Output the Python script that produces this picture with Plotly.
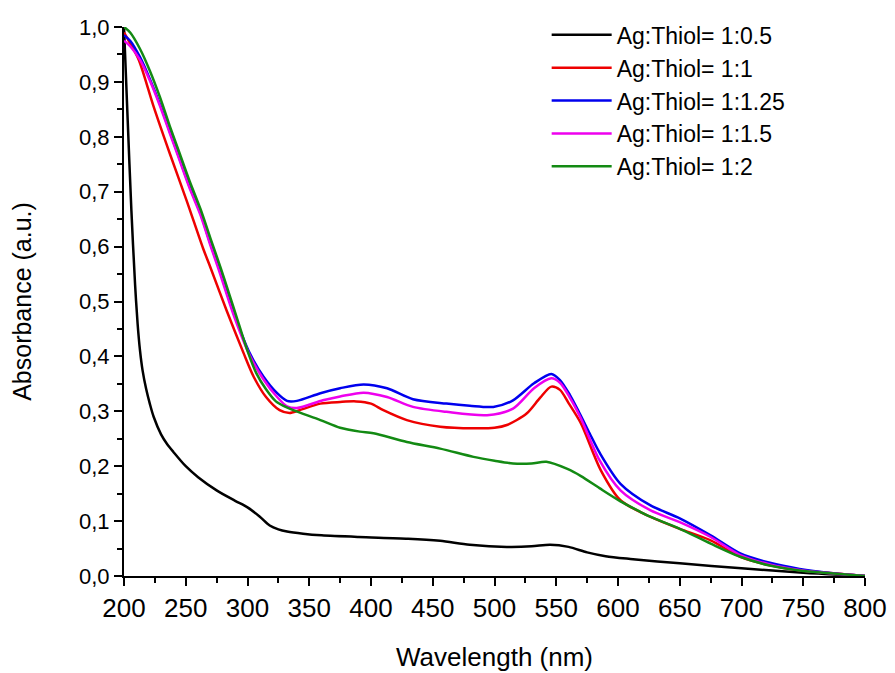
import plotly.graph_objects as go

# ---------------- data ----------------
wl_black = [200, 203, 206, 209, 211, 213, 215, 218, 221, 224, 230, 235, 240, 250, 260, 275, 290, 300,
            310, 318, 325, 332, 345, 360, 390, 430, 456, 480, 510, 530, 545, 560, 575, 590, 610, 650,
            700, 750, 800]
ab_black = [1.0, 0.83, 0.665, 0.53, 0.46, 0.41, 0.375, 0.34, 0.313, 0.29, 0.258, 0.24, 0.226, 0.20,
            0.18, 0.156, 0.137, 0.125, 0.108, 0.092, 0.085, 0.081, 0.077, 0.074, 0.071, 0.068, 0.064,
            0.057, 0.053, 0.054, 0.057, 0.053, 0.043, 0.036, 0.031, 0.023, 0.014, 0.006, 0.0]

wl_red = [200, 205, 212, 224, 237, 251, 264, 270, 283, 297, 305, 315, 326, 334, 342, 359, 375, 388,
          400, 410, 429, 456, 483, 500, 510, 526, 537, 546, 553, 560, 570, 586, 602, 626, 650, 675,
          699, 723, 747, 772, 800]
ab_red = [0.99, 0.97, 0.94, 0.855, 0.77, 0.682, 0.597, 0.562, 0.484, 0.405, 0.363, 0.326, 0.302, 0.297,
          0.302, 0.314, 0.317, 0.318, 0.314, 0.302, 0.284, 0.272, 0.269, 0.27, 0.275, 0.296, 0.325,
          0.345, 0.339, 0.315, 0.278, 0.193, 0.138, 0.108, 0.086, 0.065, 0.035, 0.0195, 0.0104,
          0.0055, 0.0]

wl_blue = [200, 205, 213, 221, 229, 237, 245, 253, 262, 270, 277, 289, 302, 313, 324, 332, 340, 359,
           375, 394, 413, 434, 461, 480, 499, 515, 532, 546, 553, 561, 569, 577, 585, 602, 626, 650,
           675, 699, 723, 747, 772, 800]
ab_blue = [0.985, 0.975, 0.945, 0.905, 0.86, 0.81, 0.76, 0.71, 0.66, 0.605, 0.56, 0.478, 0.405,
           0.363, 0.333, 0.319, 0.319, 0.333, 0.342, 0.349, 0.342, 0.322, 0.314, 0.31, 0.308, 0.32,
           0.351, 0.368, 0.357, 0.33, 0.296, 0.26, 0.225, 0.168, 0.129, 0.105, 0.074, 0.041, 0.024,
           0.013, 0.0055, 0.0]

wl_magenta = [200, 205, 213, 221, 229, 237, 245, 253, 262, 270, 277, 289, 302, 313, 324, 332, 340,
              361, 375, 394, 413, 434, 461, 494, 515, 532, 546, 553, 561, 570, 585, 602, 626, 650,
              675, 699, 723, 747, 772, 800]
ab_magenta = [0.975, 0.965, 0.94, 0.902, 0.857, 0.807, 0.757, 0.707, 0.657, 0.602, 0.556, 0.474,
              0.401, 0.358, 0.326, 0.309, 0.306, 0.32, 0.327, 0.334, 0.326, 0.308, 0.299, 0.293,
              0.305, 0.342, 0.36, 0.352, 0.325, 0.287, 0.211, 0.156, 0.12, 0.098, 0.071, 0.038,
              0.021, 0.011, 0.005, 0.0]

wl_green = [200, 205, 213, 221, 229, 237, 245, 253, 262, 270, 278, 285, 291, 300, 307, 315, 323, 330,
            337, 359, 375, 391, 402, 429, 456, 483, 500, 515, 530, 542, 559, 570, 585, 602, 618, 626,
            650, 675, 699, 723, 747, 772, 800]
ab_green = [1.0, 0.99, 0.96, 0.92, 0.873, 0.82, 0.77, 0.72, 0.668, 0.615, 0.563, 0.515, 0.473, 0.41,
            0.37, 0.34, 0.318, 0.309, 0.302, 0.284, 0.27, 0.263, 0.26, 0.244, 0.232, 0.217, 0.21,
            0.205, 0.205, 0.208, 0.195, 0.182, 0.16, 0.136, 0.117, 0.108, 0.086, 0.059, 0.035,
            0.019, 0.01, 0.005, 0.0]

series_names = ["Ag:Thiol= 1:0.5", "Ag:Thiol= 1:1", "Ag:Thiol= 1:1.25",
                "Ag:Thiol= 1:1.5", "Ag:Thiol= 1:2"]
series_colors = ["#000000", "#ee0000", "#0000ee", "#ee00ee", "#138a13"]

x_ticks = [200, 250, 300, 350, 400, 450, 500, 550, 600, 650, 700, 750, 800]
y_ticks = [0.0, 0.1, 0.2, 0.3, 0.4, 0.5, 0.6, 0.7, 0.8, 0.9, 1.0]
y_ticklabels = ["0,0", "0,1", "0,2", "0,3", "0,4", "0,5", "0,6", "0,7", "0,8", "0,9", "1,0"]

# ---------------- figure ----------------
FONT = "Arial, 'Liberation Sans', sans-serif"
fig = go.Figure()
all_x = [wl_black, wl_red, wl_blue, wl_magenta, wl_green]
all_y = [ab_black, ab_red, ab_blue, ab_magenta, ab_green]
for xs, ys, name, col in zip(all_x, all_y, series_names, series_colors):
    fig.add_trace(go.Scatter(x=xs, y=ys, mode="lines", name=name,
                             line=dict(color=col, width=2.5, shape="spline", smoothing=0.8)))

fig.update_layout(
    width=895, height=673,
    margin=dict(l=124, r=30, t=27, b=97),
    paper_bgcolor="white", plot_bgcolor="white",
    font=dict(family=FONT, color="black"),
    showlegend=True,
    legend=dict(x=0.5704, y=1.025, xanchor="left", yanchor="top",
                bgcolor="rgba(0,0,0,0)", font=dict(size=23, family=FONT),
                itemwidth=60, tracegroupgap=0),
    xaxis=dict(range=[200, 800], tickvals=x_ticks, ticks="outside", ticklen=8, tickwidth=2,
               tickcolor="black", showline=True, linecolor="black", linewidth=2,
               showgrid=False, zeroline=False, tickfont=dict(size=26, family=FONT),
               automargin=False,
               minor=dict(dtick=25, tick0=200, ticks="outside", ticklen=5, tickwidth=2,
                          tickcolor="black", showgrid=False),
               title=dict(text="Wavelength (nm)", font=dict(size=26, family=FONT), standoff=26)),
    yaxis=dict(range=[0, 1.0], tickvals=y_ticks, ticktext=y_ticklabels, ticks="outside",
               ticklen=8, tickwidth=2, tickcolor="black", showline=True, linecolor="black",
               linewidth=2, showgrid=False, zeroline=False, tickfont=dict(size=22, family=FONT),
               automargin=False,
               minor=dict(dtick=0.05, tick0=0, ticks="outside", ticklen=5, tickwidth=2,
                          tickcolor="black", showgrid=False),
               title=dict(text="Absorbance (a.u.)", font=dict(size=25, family=FONT), standoff=40)),
)

fig.write_html("out.html")
